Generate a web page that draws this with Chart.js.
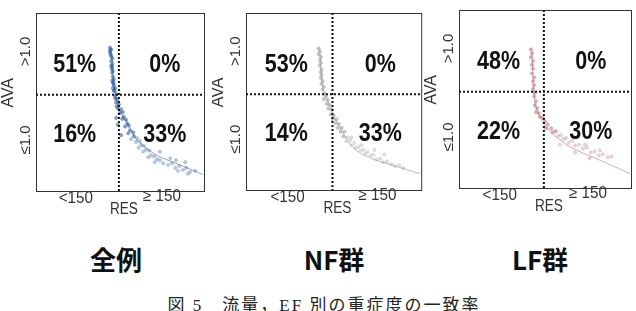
<!DOCTYPE html>
<html>
<head>
<meta charset="utf-8">
<script src="https://cdn.jsdelivr.net/npm/chart.js@4"></script>
<style>
    body { margin: 0; background: #fff; }
    #page { position: relative; width: 636px; height: 311px; overflow: hidden; }
    canvas { position: absolute; top: 0; }
    .group { position: absolute; top: 240px; line-height: 26px; font: bold 26px "Noto Sans CJK JP", sans-serif; color: #111; transform: translateX(-50%); white-space: nowrap; }
    #caption { position: absolute; top: 291px; left: 324px; line-height: 18px; transform: translateX(-50%); font: 17px "Liberation Serif", "Noto Sans CJK JP", serif; letter-spacing: 2px; color: #222; white-space: nowrap; }
</style>
</head>
<body>
<div id="page">
    <canvas id="chartAll" width="210" height="215" style="left:0px"></canvas>
    <canvas id="chartNF" width="214" height="215" style="left:212px"></canvas>
    <canvas id="chartLF" width="212" height="215" style="left:424px"></canvas>
    <div class="group" style="left:116px">全例</div>
    <div class="group" style="left:334px">NF群</div>
    <div class="group" style="left:540px">LF群</div>
    <div id="caption">図 5　流量，EF 別の重症度の一致率</div>
</div>
<script>
    const groupNames = ["全例", "NF群", "LF群"];
    const xTickLabels = ["<150", "≥ 150"];
    const yTickLabels = [">1.0", "≤1.0"];
    const resCut = 150;
    const avaCut = 1.0;

    // quadrant order: upper-left, upper-right, lower-left, lower-right
    const allPct = ["51%", "0%", "16%", "33%"];
    const nfPct = ["53%", "0%", "14%", "33%"];
    const lfPct = ["48%", "0%", "22%", "30%"];

    // 全例
    const allRes = [134, 136, 134, 136, 138, 136, 138, 138, 139, 138, 139, 141, 139, 141, 143, 141, 145, 143, 147, 145,
        150, 148, 154, 152, 157, 159, 156, 163, 165, 161, 168, 170, 167, 176, 177, 172, 183, 181, 188, 190,
        186, 195, 199, 194, 205, 208, 203, 214, 219, 215, 224, 230, 239, 246, 252, 259, 266, 272, 279, 253,
        270, 243, 224, 257, 288, 275, 148, 154, 145, 134, 136, 139, 138, 135, 137, 140, 142, 144, 146];
    const allAva = [1.49, 1.47, 1.44, 1.40, 1.38, 1.35, 1.32, 1.29, 1.25, 1.23, 1.19, 1.16, 1.13, 1.10, 1.07, 1.04, 1.01, 0.98, 0.95, 0.92,
        0.90, 0.86, 0.85, 0.81, 0.82, 0.77, 0.75, 0.74, 0.70, 0.67, 0.68, 0.63, 0.60, 0.61, 0.57, 0.54, 0.55, 0.51, 0.52, 0.48,
        0.45, 0.47, 0.43, 0.41, 0.42, 0.37, 0.35, 0.36, 0.33, 0.30, 0.32, 0.29, 0.27, 0.29, 0.24, 0.26, 0.22, 0.24, 0.20, 0.32,
        0.30, 0.34, 0.41, 0.21, 0.21, 0.18, 0.69, 0.58, 0.76, 1.46, 1.30, 1.07, 1.15, 1.42, 1.27, 1.12, 1.05, 0.96, 0.88];
    const allFitRes = [134, 138, 139, 143, 148, 156, 165, 174, 183, 201, 219, 243, 261, 282, 302];
    const allFitAva = [1.49, 1.36, 1.21, 1.02, 0.89, 0.79, 0.71, 0.61, 0.53, 0.44, 0.37, 0.31, 0.27, 0.22, 0.17];

    // NF群
    const nfRes = [126, 128, 126, 130, 128, 130, 128, 131, 130, 131, 130, 133, 131, 135, 133, 136, 138, 135, 142, 140,
        145, 143, 149, 147, 152, 150, 157, 155, 161, 159, 166, 164, 171, 169, 176, 174, 181, 183, 188, 190,
        195, 199, 204, 207, 211, 216, 221, 226, 233, 238, 245, 252, 259, 266, 273, 223, 240, 200, 183];
    const nfAva = [1.48, 1.45, 1.42, 1.39, 1.36, 1.33, 1.30, 1.26, 1.23, 1.20, 1.17, 1.14, 1.11, 1.08, 1.05, 1.01, 0.98, 0.95, 0.94, 0.90,
        0.89, 0.85, 0.84, 0.79, 0.78, 0.74, 0.74, 0.70, 0.69, 0.65, 0.65, 0.61, 0.61, 0.56, 0.55, 0.51, 0.52, 0.47, 0.49, 0.44,
        0.45, 0.41, 0.42, 0.38, 0.40, 0.36, 0.37, 0.32, 0.33, 0.29, 0.30, 0.27, 0.25, 0.26, 0.23, 0.42, 0.37, 0.47, 0.55];
    const nfFitRes = [128, 133, 140, 150, 168, 185, 214, 254, 302];
    const nfFitAva = [1.48, 1.08, 0.97, 0.80, 0.60, 0.45, 0.34, 0.26, 0.17];

    // LF群
    const lfRes = [127, 129, 127, 131, 129, 131, 129, 133, 131, 133, 131, 134, 133, 136, 134, 138, 136, 141, 143, 148,
        152, 157, 154, 163, 166, 171, 175, 180, 184, 189, 194, 200, 205, 212, 219, 226, 233, 240, 247, 254,
        263, 270, 178, 205, 231, 223, 249];
    const lfAva = [1.44, 1.40, 1.36, 1.32, 1.28, 1.24, 1.19, 1.15, 1.11, 1.07, 1.03, 0.99, 0.95, 0.90, 0.86, 0.83, 0.79, 0.78, 0.74, 0.73,
        0.69, 0.66, 0.62, 0.62, 0.58, 0.59, 0.54, 0.55, 0.51, 0.52, 0.47, 0.49, 0.44, 0.45, 0.41, 0.42, 0.37, 0.38, 0.34, 0.35,
        0.32, 0.33, 0.45, 0.37, 0.31, 0.45, 0.39];
    const lfFitRes = [129, 131, 134, 140, 155, 178, 209, 249, 302];
    const lfFitAva = [1.44, 1.09, 0.91, 0.78, 0.63, 0.50, 0.39, 0.29, 0.15];

    const toPoints = (xs, ys) => xs.map((x, i) => ({ x, y: ys[i] }));

    const quadrantPlugin = {
        id: "quadrants",
        afterDatasetsDraw(chart, args, opts) {
            const { ctx, chartArea: area, scales } = chart;
            const xs = scales.x;
            const ys = scales.y;
            const cutX = xs.getPixelForValue(resCut);
            const cutY = ys.getPixelForValue(avaCut);

            ctx.save();
            ctx.strokeStyle = "#333";
            ctx.lineWidth = 1;
            ctx.strokeRect(area.left + 0.5, area.top + 0.5, area.width, area.height);

            ctx.strokeStyle = "#111";
            ctx.lineWidth = 2;
            ctx.setLineDash([2, 2]);
            ctx.beginPath();
            ctx.moveTo(cutX, area.top);
            ctx.lineTo(cutX, area.bottom);
            ctx.moveTo(area.left, cutY);
            ctx.lineTo(area.right, cutY);
            ctx.stroke();
            ctx.setLineDash([]);

            ctx.textAlign = "center";
            ctx.textBaseline = "middle";

            // horizontally squeezed text, like the narrow face of the original
            const squeezed = (text, x, y, font, sx) => {
                ctx.save();
                ctx.translate(x, y);
                ctx.scale(sx, 1);
                ctx.font = font;
                ctx.fillText(text, 0, 0);
                ctx.restore();
            };
            const rotated = (text, x, y, font) => {
                ctx.save();
                ctx.translate(x, y);
                ctx.rotate(-Math.PI / 2);
                ctx.font = font;
                ctx.fillText(text, 0, 0);
                ctx.restore();
            };

            ctx.fillStyle = "#111";
            const pctX = [xs.getPixelForValue(70), xs.getPixelForValue(233)];
            const pctY = [ys.getPixelForValue(1.31), ys.getPixelForValue(0.58)];
            opts.pct.forEach((label, i) => {
                squeezed(label, pctX[i % 2], pctY[Math.floor(i / 2)], "bold 25px 'Liberation Sans', Arial, sans-serif", 0.86);
            });

            ctx.fillStyle = "#333";
            squeezed(xTickLabels[0], xs.getPixelForValue(72), area.bottom + 8, "16px 'Liberation Sans', Arial, sans-serif", 0.95);
            squeezed(xTickLabels[1], xs.getPixelForValue(228), area.bottom + 6, "16px 'Liberation Sans', Arial, sans-serif", 0.95);
            squeezed("RES", cutX + 5, area.bottom + 19, "16px 'Liberation Sans', Arial, sans-serif", 0.85);

            rotated(yTickLabels[0], area.left - 10, ys.getPixelForValue(1.45), "15px 'Liberation Sans', Arial, sans-serif");
            rotated(yTickLabels[1], area.left - 10, ys.getPixelForValue(0.53), "15px 'Liberation Sans', Arial, sans-serif");
            rotated("AVA", area.left - 27, cutY - 2, "16px 'Liberation Sans', Arial, sans-serif");
            ctx.restore();
        }
    };

    const buildPanel = (canvasId, points, fit, pct, rgb, fitColor, padding) => {
        // the steep, crowded part of the cloud reads darker than the sparse tail
        const pointColor = (context) => {
            const v = context.raw ? context.raw.y : 1;
            return `rgba(${rgb}, ${v > 0.55 ? 0.55 : 0.3})`;
        };
        new Chart(document.getElementById(canvasId), {
            type: "scatter",
            data: {
                datasets: [
                    {
                        data: points,
                        pointRadius: 1.6,
                        pointBorderWidth: 0.8,
                        backgroundColor: pointColor,
                        borderColor: pointColor
                    },
                    {
                        data: fit,
                        showLine: true,
                        pointRadius: 0,
                        borderWidth: 1,
                        borderColor: fitColor,
                        tension: 0.4
                    }
                ]
            },
            options: {
                responsive: false,
                animation: false,
                layout: { padding },
                plugins: {
                    legend: { display: false },
                    tooltip: { enabled: false },
                    quadrants: { pct }
                },
                scales: {
                    x: { type: "linear", min: 0, max: 304, display: false },
                    y: { type: "linear", min: 0, max: 1.85, display: false }
                }
            },
            plugins: [quadrantPlugin]
        });
    };

    buildPanel("chartAll", toPoints(allRes, allAva), toPoints(allFitRes, allFitAva), allPct,
        "45, 95, 160", "rgba(130, 145, 170, 0.85)", { left: 36, top: 13, right: 6, bottom: 24 });
    buildPanel("chartNF", toPoints(nfRes, nfAva), toPoints(nfFitRes, nfFitAva), nfPct,
        "160, 160, 160", "rgba(180, 180, 180, 0.9)", { left: 34, top: 13, right: 4, bottom: 25 });
    buildPanel("chartLF", toPoints(lfRes, lfAva), toPoints(lfFitRes, lfFitAva), lfPct,
        "195, 120, 130", "rgba(200, 165, 170, 0.9)", { left: 35, top: 10, right: 5, bottom: 27 });
</script>
</body>
</html>
